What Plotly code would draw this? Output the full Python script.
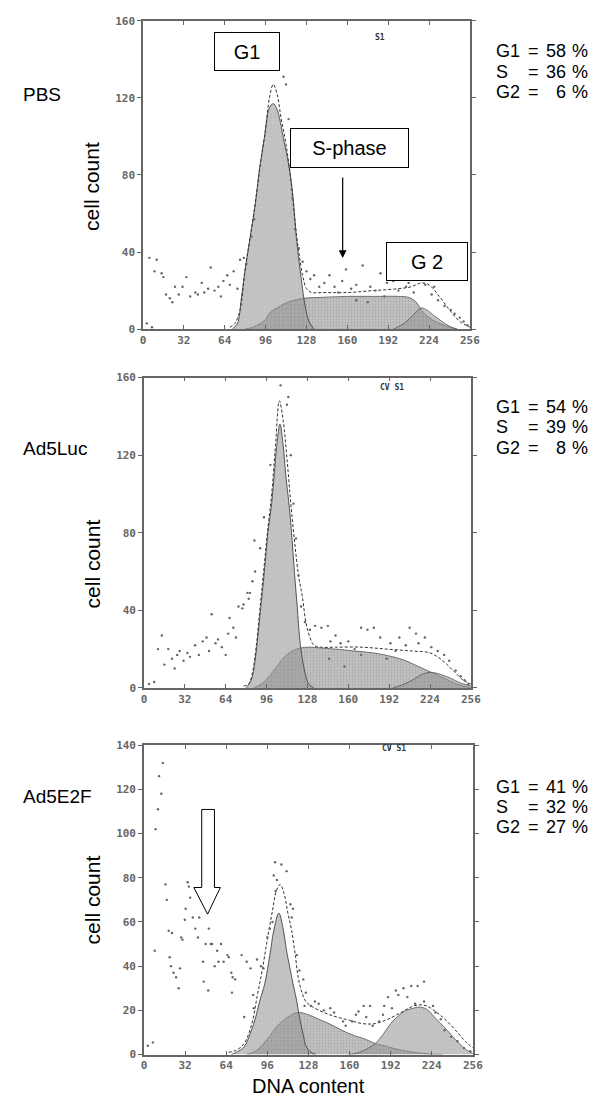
import plotly.graph_objects as go

W, H = 616, 1106

# ---------------- data ----------------
channel_ticks = [0, 32, 64, 96, 128, 160, 192, 224, 256]
panel_names = ["PBS", "Ad5Luc", "Ad5E2F"]
panel_tags = ["S1", "CV S1", "CV S1"]
y_maxes = [160, 160, 140]
y_tick_steps = [40, 40, 20]
g1_pct = [58, 54, 41]
s_pct = [36, 39, 32]
g2_pct = [6, 8, 27]

# PBS
pbs_g1_x = [70, 74, 77, 80, 84, 88, 91, 95, 99, 102, 105, 110, 115, 118, 120, 123, 127, 130, 134]
pbs_g1_y = [0, 3, 16, 31, 48, 65, 82, 99, 115, 117, 114, 99, 82, 65, 48, 31, 12, 4, 0]
pbs_s_x = [80, 86, 92, 96, 100, 105, 110, 118, 126, 140, 160, 180, 200, 208, 214, 218, 224, 232, 240, 246]
pbs_s_y = [0, 1, 3, 5, 9, 11, 13, 15, 16, 16.5, 17, 17, 17, 16.5, 14, 10, 6, 3, 1, 0]
pbs_g2_x = [196, 202, 208, 214, 218, 222, 228, 234, 240, 246]
pbs_g2_y = [0, 2, 5, 9, 11, 10, 7, 4, 1.5, 0]
pbs_fit_x = [68, 72, 76, 80, 84, 88, 92, 96, 99, 102, 105, 108, 112, 116, 119, 122, 125, 128, 132, 140, 160, 180, 200, 210, 218, 224, 232, 240, 248, 256]
pbs_fit_y = [1, 3, 10, 31, 48, 66, 86, 104, 120, 127, 122, 110, 96, 76, 56, 40, 28, 21, 19, 19, 19, 20, 21, 22, 24, 23, 17, 10, 4, 1]
pbs_dots_x = [3, 7, 5, 9, 10.7, 14.6, 16, 18, 21, 23, 25, 28, 31, 34, 37, 41, 43, 46, 48, 51, 53, 56, 59, 61, 63, 66, 68, 71, 74, 76, 79, 81, 85, 87,
              110, 112, 114, 115, 117, 119, 122, 125, 128, 131, 134, 138, 142, 146, 150, 153, 156, 159, 163, 167, 167, 172, 176, 178, 182, 186,
              189, 191, 196, 200, 203, 206, 208, 212, 216, 221, 226, 228, 231, 236, 241, 244, 248, 251, 254]
pbs_dots_y = [3, 1, 37, 30, 36, 29, 27, 18, 16, 14, 22, 18, 22, 27, 17, 19, 18, 24, 19, 21, 32, 20, 22, 17, 25, 28, 23, 30, 21, 36, 37, 34, 48, 57,
              131, 127, 109, 84, 68, 52, 42, 35, 30, 26, 28, 22, 24, 28, 22, 19, 25, 31, 21, 23, 15, 33, 14, 22, 20, 29,
              17, 24, 25, 20, 27, 22, 24, 19, 26, 23, 18, 22, 15, 12, 10, 8, 6, 4, 2]

# Ad5Luc
luc_g1_x = [80, 84, 87, 90, 92, 95, 97, 100, 102, 104, 106.5, 109, 111, 114, 116, 118, 120, 122, 124, 126, 129, 133]
luc_g1_y = [0, 4, 14, 32, 45, 65, 80, 95, 110, 125, 136, 125, 110, 92, 76, 58, 42, 25, 15, 8, 2, 0]
luc_s_x = [86, 92, 98, 104, 110, 116, 122, 130, 140, 150, 165, 180, 195, 205, 215, 225, 235, 243, 250, 256]
luc_s_y = [0, 2, 6, 11, 16, 19, 20.5, 21, 20.5, 20, 19, 18, 16, 14, 11, 8, 5, 2.5, 1, 0]
luc_g2_x = [195, 202, 210, 218, 225, 232, 240, 248, 256]
luc_g2_y = [0, 1.5, 4, 7, 8, 7, 5, 2.5, 1]
luc_fit_x = [78, 82, 85, 88, 91, 94, 97, 100, 103, 106, 109, 112, 115, 118, 121, 124, 127, 130, 133, 138, 150, 170, 190, 210, 224, 234, 242, 250, 256]
luc_fit_y = [1, 2, 8, 22, 42, 62, 82, 100, 125, 148, 138, 118, 95, 75, 58, 47, 33, 26, 22, 21, 21, 21, 20, 19, 18, 14, 9, 4, 2]
luc_dots_x = [4, 8, 11, 14, 16, 19, 22, 24, 26, 28, 31, 34, 36, 40, 43, 46, 49, 51, 53, 56, 58, 61, 64, 66, 67, 70, 72, 74, 77, 78, 81, 82, 83, 85,
              87, 86.5, 91, 94, 99, 107, 112, 113, 115, 117, 119, 121, 123, 126, 130, 134, 139, 144, 145, 146, 150, 154, 157, 160, 165, 170,
              170, 175, 180, 185, 190, 193, 197, 200, 205, 208, 213, 215, 220, 225, 230, 235, 239, 244, 248, 251, 254]
luc_dots_y = [2, 3, 20, 27, 12, 20, 15, 10, 17, 19, 14, 18, 16, 22, 17, 24, 26, 19, 38, 23, 25, 21, 17, 28, 36, 31, 26, 42, 41, 43, 49, 46, 49, 55,
              60, 76, 72, 88, 115, 156, 146, 150, 120, 95, 77, 58, 42, 34, 30, 32, 31, 32, 15, 24, 27, 23, 11, 24, 20, 31,
              17, 30, 31, 26, 15, 23, 19, 26, 22, 31, 28, 23, 26, 21, 19, 17, 14, 9, 6, 4, 2]

# Ad5E2F
e2f_g1_x = [68, 72, 78, 83, 87, 90, 94, 98, 101, 105, 108, 111, 114, 116, 119, 121, 124, 126, 130, 134]
e2f_g1_y = [0, 1, 3.5, 10, 17, 24, 32, 45, 56, 64, 58, 47, 38, 32, 24, 17, 9, 4, 1, 0]
e2f_s_x = [80, 88, 96, 104, 112, 120, 128, 136, 144, 154, 164, 172, 180, 190, 200, 210, 222, 232]
e2f_s_y = [0, 2, 7, 13, 17, 19, 18, 16, 14, 11, 8.5, 7, 5, 3.5, 2, 1, 0.3, 0]
e2f_g2_x = [160, 168, 175, 180, 186, 192, 198, 204, 210, 214, 220, 226, 231, 236, 242, 248, 254, 256]
e2f_g2_y = [0, 1, 3, 5, 9, 14, 17.5, 20, 21, 21.5, 20.5, 17, 14, 11, 7, 3.5, 1, 0.5]
e2f_fit_x = [66, 72, 78, 84, 88, 92, 96, 100, 103, 106, 109, 112, 115, 118, 120, 123, 126, 130, 140, 150, 160, 170, 180, 190, 200, 208, 214, 220, 228, 236, 244, 250, 256]
e2f_fit_y = [1, 2, 5, 14, 26, 38, 52, 65, 74, 77, 73, 64, 56, 44, 35, 28, 24, 22, 19, 17, 15.5, 14, 14, 16, 19, 21.5, 22.5, 22, 19, 15, 10, 6, 3]
e2f_dots_x = [3, 7, 8.4, 9, 10.9, 11.7, 13.5, 14.7, 16.8, 17.8, 19.3, 20, 21, 21.8, 23, 25, 27, 28, 29, 30, 31.8, 32.4, 34, 35, 36, 38, 40, 42, 43,
              46, 46.5, 48, 50, 50.5, 52, 53, 55, 57, 58, 60, 62, 65, 66, 68, 68.5, 69, 71, 76, 78, 80, 83, 85, 85.5, 88, 91, 93, 96, 98, 100,
              101, 102, 102.5, 103.5, 107, 111, 114, 115, 116, 119, 121, 124, 125, 126, 130, 133, 136, 140, 145, 148, 155, 157, 162, 165, 167,
              171, 173, 176, 178, 183, 186, 187, 190, 193, 196, 198, 202, 205, 208, 211, 213, 218, 218, 225, 227, 231, 234, 239, 244, 249, 254]
e2f_dots_y = [4, 5.5, 47, 102, 111, 126, 118, 132, 77, 70, 56, 44, 40, 55, 37, 35, 30, 39, 53, 52, 61, 66, 78, 76, 71, 62, 57, 53, 62,
              42, 33, 50, 29, 57, 50, 50, 40, 47, 42, 50, 42, 45, 44, 37, 28, 35, 34, 45, 17, 42, 39, 27, 21, 43, 40, 39, 53, 57, 60,
              81, 87, 74, 79, 86, 83, 68, 62, 66, 45, 38, 34, 22, 28, 22, 24, 23, 20, 21, 19, 15, 13, 15, 18, 19.5,
              22, 17, 22, 13, 15, 18, 22, 26, 21, 29, 27, 30, 26, 31, 23, 31, 33, 24, 22, 19, 16, 11, 8, 6, 3, 1.5]

panels = [
    dict(g1=(pbs_g1_x, pbs_g1_y), s=(pbs_s_x, pbs_s_y), g2=(pbs_g2_x, pbs_g2_y), fit=(pbs_fit_x, pbs_fit_y), dots=(pbs_dots_x, pbs_dots_y)),
    dict(g1=(luc_g1_x, luc_g1_y), s=(luc_s_x, luc_s_y), g2=(luc_g2_x, luc_g2_y), fit=(luc_fit_x, luc_fit_y), dots=(luc_dots_x, luc_dots_y)),
    dict(g1=(e2f_g1_x, e2f_g1_y), s=(e2f_s_x, e2f_s_y), g2=(e2f_g2_x, e2f_g2_y), fit=(e2f_fit_x, e2f_fit_y), dots=(e2f_dots_x, e2f_dots_y)),
]

# ---------------- layout helpers (pixel -> paper) ----------------
def px(x):
    return x / W

def py(y):
    return 1 - y / H

# plot frames in pixels: (left, top, right, bottom)
frames = [(143, 15, 477, 327), (144, 376, 478, 690), (144, 748, 480, 1061)]

fig = go.Figure()
layout = dict(width=W, height=H, autosize=False, margin=dict(l=0, r=0, t=0, b=0),
              paper_bgcolor="white", plot_bgcolor="white", showlegend=False)

tick_font = dict(family="DejaVu Sans Mono", size=11, color="#666", weight="bold")
label_font = dict(family="Liberation Sans, Arial", size=19, color="black")
stat_font = dict(family="Liberation Sans, Arial", size=18, color="black")
title_font = dict(family="Liberation Sans, Arial", size=20, color="black")

annotations = []
shapes = []

for i, (p, fr) in enumerate(zip(panels, frames)):
    n = "" if i == 0 else str(i + 1)
    xa, ya = "x" + n, "y" + n
    fig.add_trace(go.Scatter(x=p["s"][0], y=p["s"][1], xaxis=xa, yaxis=ya, mode="lines",
                             line=dict(color="#555", width=0.8, shape="spline"), fill="tozeroy",
                             fillcolor="rgba(125,125,125,0.5)",
                             fillpattern=dict(shape=".", fgcolor="rgba(70,70,70,0.45)",
                                              bgcolor="rgba(135,135,135,0.5)", size=3, solidity=0.3),
                             hoverinfo="skip"))
    fig.add_trace(go.Scatter(x=p["g2"][0], y=p["g2"][1], xaxis=xa, yaxis=ya, mode="lines",
                             line=dict(color="#555", width=0.8, shape="spline"), fill="tozeroy",
                             fillcolor="rgba(150,150,150,0.55)",
                             fillpattern=dict(shape="+", fgcolor="rgba(240,240,240,0.35)",
                                              bgcolor="rgba(140,140,140,0.55)", size=4, solidity=0.3),
                             hoverinfo="skip"))
    fig.add_trace(go.Scatter(x=p["g1"][0], y=p["g1"][1], xaxis=xa, yaxis=ya, mode="lines",
                             line=dict(color="#444", width=0.9, shape="spline"), fill="tozeroy",
                             fillcolor="rgba(150,150,150,0.55)",
                             fillpattern=dict(shape="+", fgcolor="rgba(240,240,240,0.35)",
                                              bgcolor="rgba(140,140,140,0.55)", size=4, solidity=0.3),
                             hoverinfo="skip"))
    fig.add_trace(go.Scatter(x=p["fit"][0], y=p["fit"][1], xaxis=xa, yaxis=ya, mode="lines",
                             line=dict(color="#333", width=1, dash="3px,2px", shape="spline"), hoverinfo="skip"))
    fig.add_trace(go.Scatter(x=p["dots"][0], y=p["dots"][1], xaxis=xa, yaxis=ya, mode="markers",
                             marker=dict(color="#666", size=2.4), hoverinfo="skip"))

    l, t, r, b = fr
    axis_common = dict(showline=True, linecolor="#666", linewidth=1.5, mirror="ticks",
                       ticklen=4, tickcolor="#666", tickwidth=1, showgrid=False, zeroline=False,
                       tickfont=tick_font, fixedrange=True)
    layout["xaxis" + n] = dict(domain=[px(l), px(r)], range=[0, 256], tickvals=channel_ticks,
                               anchor=ya, ticks="inside", **axis_common)
    ymax = y_maxes[i]
    layout["yaxis" + n] = dict(domain=[py(b), py(t)], range=[0, ymax],
                               tickvals=list(range(0, ymax + 1, y_tick_steps[i])),
                               anchor=xa, ticks="outside", **axis_common)

    # tag in the top-right of the panel
    annotations.append(dict(x=px(l + (0.725 if i == 0 else 0.76) * (r - l)), y=py(t + 10), xref="paper", yref="paper",
                            text="<b>" + panel_tags[i] + "</b>", showarrow=False,
                            font=dict(family="DejaVu Sans Mono", size=8, color="#333")))
    # sample name
    name_y = [90, 448, 800][i]
    annotations.append(dict(x=px(18), y=py(name_y), xref="paper", yref="paper", text=panel_names[i],
                            showarrow=False, xanchor="left", yanchor="middle", font=label_font))
    # y-axis title
    cc_y = [183, 565, 905][i]
    annotations.append(dict(x=px(91), y=py(cc_y), xref="paper", yref="paper", text="cell count",
                            showarrow=False, textangle=-90, xanchor="center", yanchor="middle",
                            font=dict(family="Liberation Sans, Arial", size=21, color="black")))
    # percentages
    rows_y = [[46, 66.5, 87], [406, 426.5, 447], [790, 810.5, 831]][i]
    row_box = dict(xref="paper", yref="paper", showarrow=False, yanchor="middle", height=18,
                   borderpad=0, font=stat_font)
    for lab, val, yy in zip(["G1", "S", "G2"], [g1_pct[i], s_pct[i], g2_pct[i]], rows_y):
        annotations.append(dict(x=px(503), y=py(yy), text=lab, xanchor="left", **row_box))
        annotations.append(dict(x=px(535), y=py(yy), text="=", xanchor="left", **row_box))
        annotations.append(dict(x=px(576), y=py(yy), text=str(val), xanchor="right", **row_box))
        annotations.append(dict(x=px(580), y=py(yy), text="%", xanchor="left", **row_box))

# x-axis title
annotations.append(dict(x=px(312), y=py(1093), xref="paper", yref="paper", text="DNA content", showarrow=False,
                        xanchor="center", yanchor="middle", font=title_font))

# boxed phase labels in the PBS panel
for txt, (x0, y0, x1, y1) in [("G1", (216, 27, 282, 66)), ("S-phase", (294, 124, 413, 164)), ("G 2", (392, 239, 474, 278))]:
    annotations.append(dict(x=px((x0 + x1) / 2), y=py((y0 + y1) / 2), xref="paper", yref="paper", text=txt,
                            showarrow=False, xanchor="center", yanchor="middle", width=x1 - x0 - 2, height=y1 - y0 - 2,
                            borderpad=0, bordercolor="black", borderwidth=1, bgcolor="white", font=title_font))

# S-phase pointer arrow
annotations.append(dict(x=px(347), y=py(255), xref="paper", yref="paper", ax=0, ay=-82, text="",
                        showarrow=True, arrowhead=2, arrowsize=1.3, arrowwidth=1.2, arrowcolor="black"))

# hollow arrow in the Ad5E2F panel
pts = [(203, 813), (216, 813), (216, 892), (222, 892), (209, 919), (195, 892), (203, 892)]
path = "M " + " L ".join(f"{px(a):.5f},{py(b):.5f}" for a, b in pts) + " Z"
shapes.append(dict(type="path", xref="paper", yref="paper", path=path, fillcolor="white",
                   line=dict(color="black", width=1)))

layout["annotations"] = annotations
layout["shapes"] = shapes
fig.update_layout(**layout)
fig.write_html("out.html", config={"displayModeBar": False},
               post_script="document.body.style.margin='0';document.body.style.overflow='hidden';")
